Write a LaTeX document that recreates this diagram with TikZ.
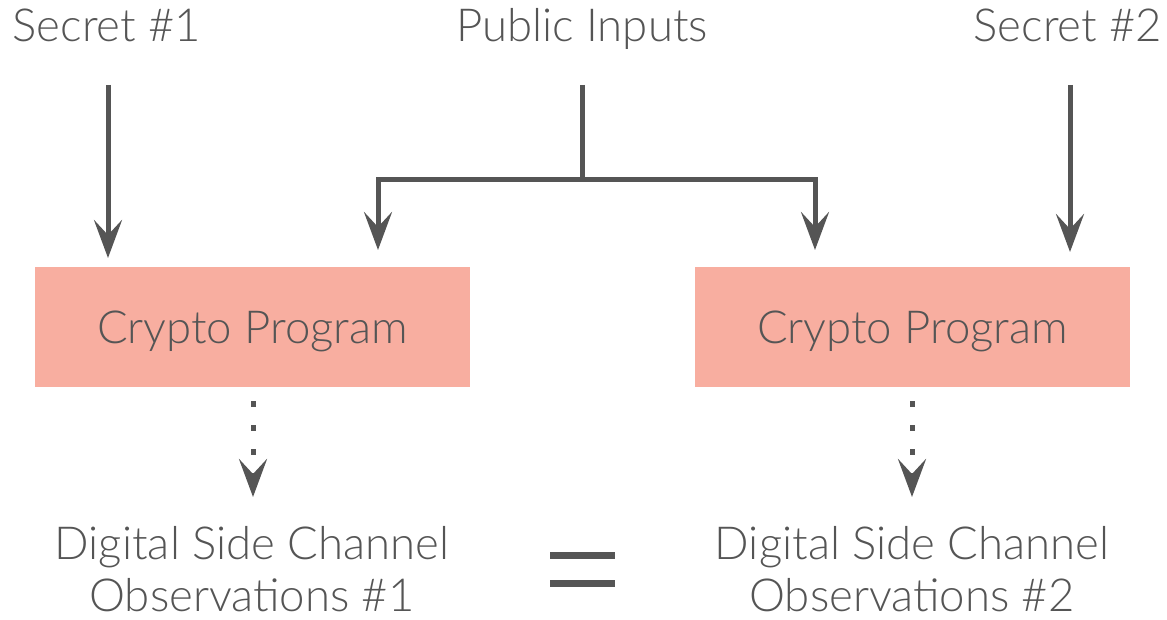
\documentclass[tikz,border=0pt]{standalone}
\usepackage{fontspec}
\setmainfont{Lato}[UprightFont=* Light]
\usetikzlibrary{arrows.meta}
\definecolor{ink}{RGB}{85,85,85}
\definecolor{boxfill}{RGB}{248,174,160}
\tikzset{
  lbl/.style={text=ink, font=\fontsize{45.5}{52}\selectfont, inner sep=0pt, anchor=base},
  prog/.style={fill=boxfill, draw=none, minimum width=435, minimum height=120, inner sep=0pt, text=ink, font=\fontsize{45.5}{53}\selectfont, text height=33pt, text depth=0pt},
  tip/.style={-{Stealth[length=38pt,width=28pt,inset=15pt]}},
  conn/.style={draw=ink, line width=5pt, tip},
  dotconn/.style={conn, line cap=butt, dash pattern=on 6pt off 18pt},
}
\begin{document}
\begin{tikzpicture}[x=1pt,y=-1pt]
\useasboundingbox (0,0) rectangle (1167,620);
\node[lbl] (s1) at (107,42) {Secret \#1};
\node[lbl] (pub) at (582,42) {Public Inputs};
\node[lbl] (s2) at (1068,42) {Secret \#2};
\node[prog] (p1) at (252.5,327) {Crypto Program};
\node[prog] (p2) at (912.5,327) {Crypto Program};
\node[lbl, align=center, text depth=0pt] (o1) at (252,611) {Digital Side Channel\\Observations \#1};
\node[lbl, align=center, text depth=0pt] (o2) at (912,611) {Digital Side Channel\\Observations \#2};
\coordinate (s1a) at (108,85);
\coordinate (s1b) at (108,258);
\coordinate (s2a) at (1070,85);
\coordinate (s2b) at (1070,252);
\coordinate (puba) at (582,85);
\coordinate (split) at (582,180);
\coordinate (pl) at (378,250);
\coordinate (pr) at (815,250);
\coordinate (d1a) at (253,401);
\coordinate (d1b) at (253,497);
\coordinate (d2a) at (912,401);
\coordinate (d2b) at (912,497);
\draw[conn] (s1a) -- (s1b);
\draw[conn] (s2a) -- (s2b);
\draw[draw=ink, line width=5pt] (puba) -- (split);
\draw[conn] (split) -| (pl);
\draw[conn] (split) -| (pr);
\draw[dotconn] (d1a) -- (d1b);
\draw[dotconn] (d2a) -- (d2b);
\fill[ink] (550,552) rectangle (615,558.5);
\fill[ink] (550,580) rectangle (615,586.5);
\end{tikzpicture}
\end{document}
